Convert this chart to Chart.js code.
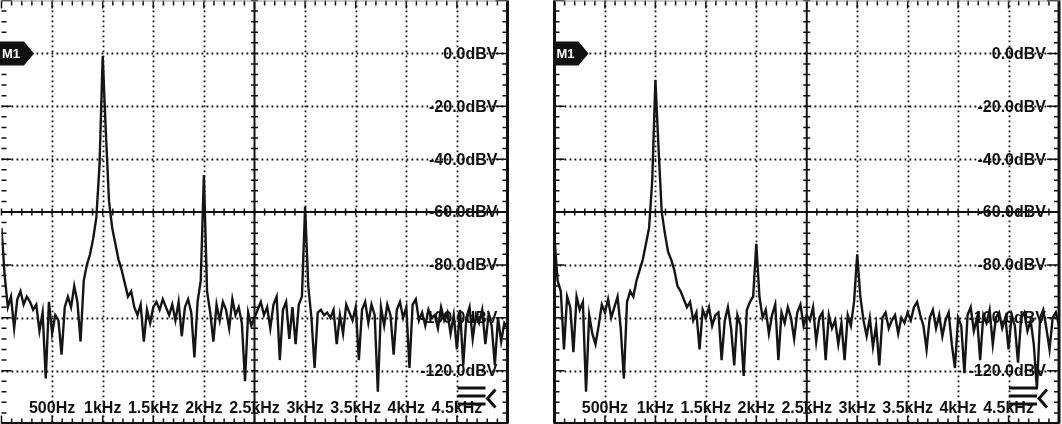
<!DOCTYPE html>
<html>
<head>
<meta charset="utf-8">
<script src="https://cdn.jsdelivr.net/npm/chart.js@4.4.0/dist/chart.umd.min.js"></script>
<style>
  html, body { margin: 0; padding: 0; background: #fff; }
  body { width: 1062px; height: 424px; position: relative; overflow: hidden; }
  .scope { position: absolute; top: 0; height: 424px; }
  #left { left: 0; width: 520px; }
  #right { left: 540px; width: 522px; }
</style>
</head>
<body>
<div class="scope" id="left"><canvas id="fftLeft"></canvas></div>
<div class="scope" id="right"><canvas id="fftRight"></canvas></div>
<script>
// FFT bin width of the scope trace (0 .. 5 kHz, 161 bins)
const BIN_HZ = 31.25;
const CENTER_HZ = 2500;
const CENTER_DB = -60;

const freqTicks = [500, 1000, 1500, 2000, 2500, 3000, 3500, 4000, 4500];
const freqLabels = ['500Hz', '1kHz', '1.5kHz', '2kHz', '2.5kHz', '3kHz', '3.5kHz', '4kHz', '4.5kHz'];
const dbTicks = [0, -20, -40, -60, -80, -100, -120];
const dbLabels = ['0.0dBV', '-20.0dBV', '-40.0dBV', '-60.0dBV', '-80.0dBV', '-100.0dBV', '-120.0dBV'];

// dBV per bin
const leftTrace = [
  -66, -84, -96, -92, -104, -93, -90, -95, -92, -94,
  -97, -95, -105, -98, -123, -94, -106, -99, -101, -114,
  -96, -92, -96, -88, -94, -109, -86, -80, -76, -70,
  -62, -42, -1, -30, -56, -66, -72, -78, -82, -87,
  -92, -90, -96, -99, -95, -109, -97, -102, -96, -94,
  -97, -93, -96, -99, -95, -101, -94, -107, -96, -93,
  -98, -115, -94, -86, -46, -90, -98, -109, -95, -101,
  -94, -97, -104, -93, -99, -96, -102, -124, -98, -103,
  -100, -97, -94, -99, -96, -104, -95, -92, -116, -97,
  -94, -108, -96, -110, -95, -92, -58, -88, -100, -119,
  -98, -97, -99, -98, -100, -97, -110, -99, -106, -95,
  -98, -101, -96, -116, -97, -94, -102, -95, -99, -128,
  -96, -103, -95, -99, -114, -97, -94, -100, -96, -119,
  -95, -93, -101, -98, -103, -97, -100, -99, -104, -96,
  -101, -98, -106, -99, -112, -97, -118, -100, -96, -108,
  -99, -102, -97, -110, -99, -103, -118, -100, -109, -102,
  -104
];

// dBV per bin
const rightTrace = [
  -70, -86, -90, -112, -92, -96, -113, -92, -97, -94,
  -128, -99, -106, -110, -103, -95, -98, -93, -100, -96,
  -92, -104, -123, -94, -90, -92, -86, -82, -78, -72,
  -66, -48, -10, -36, -60, -68, -75, -78, -82, -88,
  -90, -93, -96, -94, -101, -98, -112, -97, -100, -96,
  -103, -99, -98, -116, -101, -96, -104, -118, -99, -103,
  -122, -97, -94, -92, -72, -92, -100, -97, -106, -99,
  -95, -116, -98, -102, -96, -100, -108, -98, -95, -103,
  -99, -101, -96, -109, -100, -98, -116, -99, -104, -101,
  -110, -102, -116, -99, -103, -94, -76, -92, -101, -107,
  -100, -111, -103, -118, -100, -98, -104, -101, -99, -106,
  -100, -102, -98, -101, -96, -94, -99, -103, -112, -100,
  -97, -104, -99, -107, -101, -98, -110, -119, -100, -103,
  -121, -99, -96, -105, -100, -116, -99, -102, -97, -110,
  -100, -98, -104, -100, -112, -99, -103, -117, -100, -98,
  -105, -101, -110, -127, -100, -97, -104, -112, -100, -98,
  -103
];

const INK = '#111';
const FONT = '"Liberation Sans", Arial, sans-serif';

// scope graticule, readouts and on-screen markers
const graticule = {
  id: 'graticule',
  beforeDatasetsDraw(chart, args, opts) {
    const { ctx, chartArea: a, scales: { x, y } } = chart;
    const L = a.left, R = a.right, T = a.top, B = a.bottom;
    const cx = x.getPixelForValue(CENTER_HZ);
    const cy = y.getPixelForValue(CENTER_DB);
    ctx.save();
    ctx.strokeStyle = INK;

    // dotted division lines
    ctx.lineWidth = 1.8;
    ctx.setLineDash([1.8, 3.2]);
    ctx.beginPath();
    freqTicks.forEach(f => {
      if (f === CENTER_HZ) return;
      const px = Math.round(x.getPixelForValue(f)) + 0.5;
      ctx.moveTo(px, T); ctx.lineTo(px, B);
    });
    dbTicks.forEach(d => {
      if (d === CENTER_DB) return;
      const py = Math.round(y.getPixelForValue(d)) + 0.5;
      ctx.moveTo(L, py); ctx.lineTo(R, py);
    });
    ctx.stroke();

    // solid centre lines
    ctx.setLineDash([]);
    ctx.lineWidth = 2;
    ctx.beginPath();
    ctx.moveTo(cx, T); ctx.lineTo(cx, B);
    ctx.moveTo(L, cy); ctx.lineTo(R, cy);
    ctx.stroke();

    // minor ticks on the frame and the centre lines
    ctx.lineWidth = 1.5;
    ctx.beginPath();
    for (let f = 0; f <= 5000; f += 100) {
      const px = x.getPixelForValue(f);
      const len = f % 500 === 0 ? 8 : 5;
      ctx.moveTo(px, T); ctx.lineTo(px, T + len);
      ctx.moveTo(px, B); ctx.lineTo(px, B - len);
      ctx.moveTo(px, cy - 3.5); ctx.lineTo(px, cy + 3.5);
    }
    for (let d = 20; d >= -140; d -= 4) {
      const py = y.getPixelForValue(d);
      const major = d % 20 === 0;
      ctx.moveTo(L, py); ctx.lineTo(L + (major ? 10 : 5), py);
      ctx.moveTo(R, py); ctx.lineTo(R - (major ? 12 : 5), py);
      ctx.moveTo(cx - 3.5, py); ctx.lineTo(cx + 3.5, py);
    }
    ctx.stroke();

    // frame
    ctx.lineWidth = 3;
    ctx.beginPath();
    ctx.moveTo(R, T); ctx.lineTo(R, B);
    if (opts.leftBorder) { ctx.moveTo(L, T); ctx.lineTo(L, B); }
    ctx.moveTo(L, B); ctx.lineTo(R, B);
    ctx.stroke();
    ctx.strokeStyle = '#999';
    ctx.lineWidth = 1;
    ctx.beginPath();
    ctx.moveTo(L, T + 0.5); ctx.lineTo(R, T + 0.5);
    ctx.stroke();

    // readouts
    ctx.fillStyle = INK;
    ctx.font = 'bold 16px ' + FONT;
    ctx.textAlign = 'right';
    ctx.textBaseline = 'middle';
    dbTicks.forEach((d, i) => ctx.fillText(dbLabels[i], R - opts.labelInset, y.getPixelForValue(d) + 1));
    ctx.textAlign = 'center';
    freqTicks.forEach((f, i) => ctx.fillText(freqLabels[i], x.getPixelForValue(f), B - 15));
    ctx.restore();
  },
  afterDatasetsDraw(chart, args, opts) {
    const { ctx, chartArea: a, scales: { y } } = chart;
    const my = y.getPixelForValue(0);
    const mx = a.left + opts.markerShift;
    ctx.save();
    // M1 reference marker
    ctx.fillStyle = INK;
    ctx.beginPath();
    ctx.moveTo(mx, my - 12);
    ctx.lineTo(mx + 24, my - 12);
    ctx.lineTo(mx + 34, my);
    ctx.lineTo(mx + 24, my + 12);
    ctx.lineTo(mx, my + 12);
    ctx.closePath();
    ctx.fill();
    ctx.fillStyle = '#fff';
    ctx.font = 'bold 13px ' + FONT;
    ctx.textAlign = 'left';
    ctx.textBaseline = 'middle';
    ctx.fillText('M1', mx + 2, my + 1);

    // menu icon, bottom right
    const R = a.right, B = a.bottom;
    ctx.fillStyle = INK;
    [0, 8, 16].forEach(dy => ctx.fillRect(R - 50, B - 37 + dy, 28, 3));
    ctx.strokeStyle = INK;
    ctx.lineWidth = 3;
    ctx.beginPath();
    ctx.moveTo(R - 12, B - 34);
    ctx.lineTo(R - 20, B - 25);
    ctx.lineTo(R - 12, B - 16);
    ctx.stroke();
    ctx.restore();
  }
};

function makeScope(canvasId, trace, padding, gratOpts) {
  return new Chart(document.getElementById(canvasId), {
    type: 'line',
    data: {
      datasets: [{
        data: trace.map((db, i) => ({ x: i * BIN_HZ, y: db })),
        borderColor: '#151515',
        borderWidth: 2.4,
        pointRadius: 0,
        tension: 0
      }]
    },
    options: {
      responsive: true,
      maintainAspectRatio: false,
      animation: false,
      devicePixelRatio: 1,
      layout: { padding: padding },
      plugins: {
        legend: { display: false },
        tooltip: { enabled: false },
        graticule: gratOpts
      },
      scales: {
        x: { type: 'linear', min: 0, max: 5000, display: false },
        y: { type: 'linear', min: -140, max: 20, display: false }
      }
    },
    plugins: [graticule]
  });
}

makeScope('fftLeft', leftTrace, { left: 1.5, right: 12.5, top: 0.5, bottom: 0.5 },
  { leftBorder: false, labelInset: 10, markerShift: -1.5 });
makeScope('fftRight', rightTrace, { left: 14.5, right: 3, top: 0.5, bottom: 0.5 },
  { leftBorder: true, labelInset: 13, markerShift: 0 });
</script>
</body>
</html>
